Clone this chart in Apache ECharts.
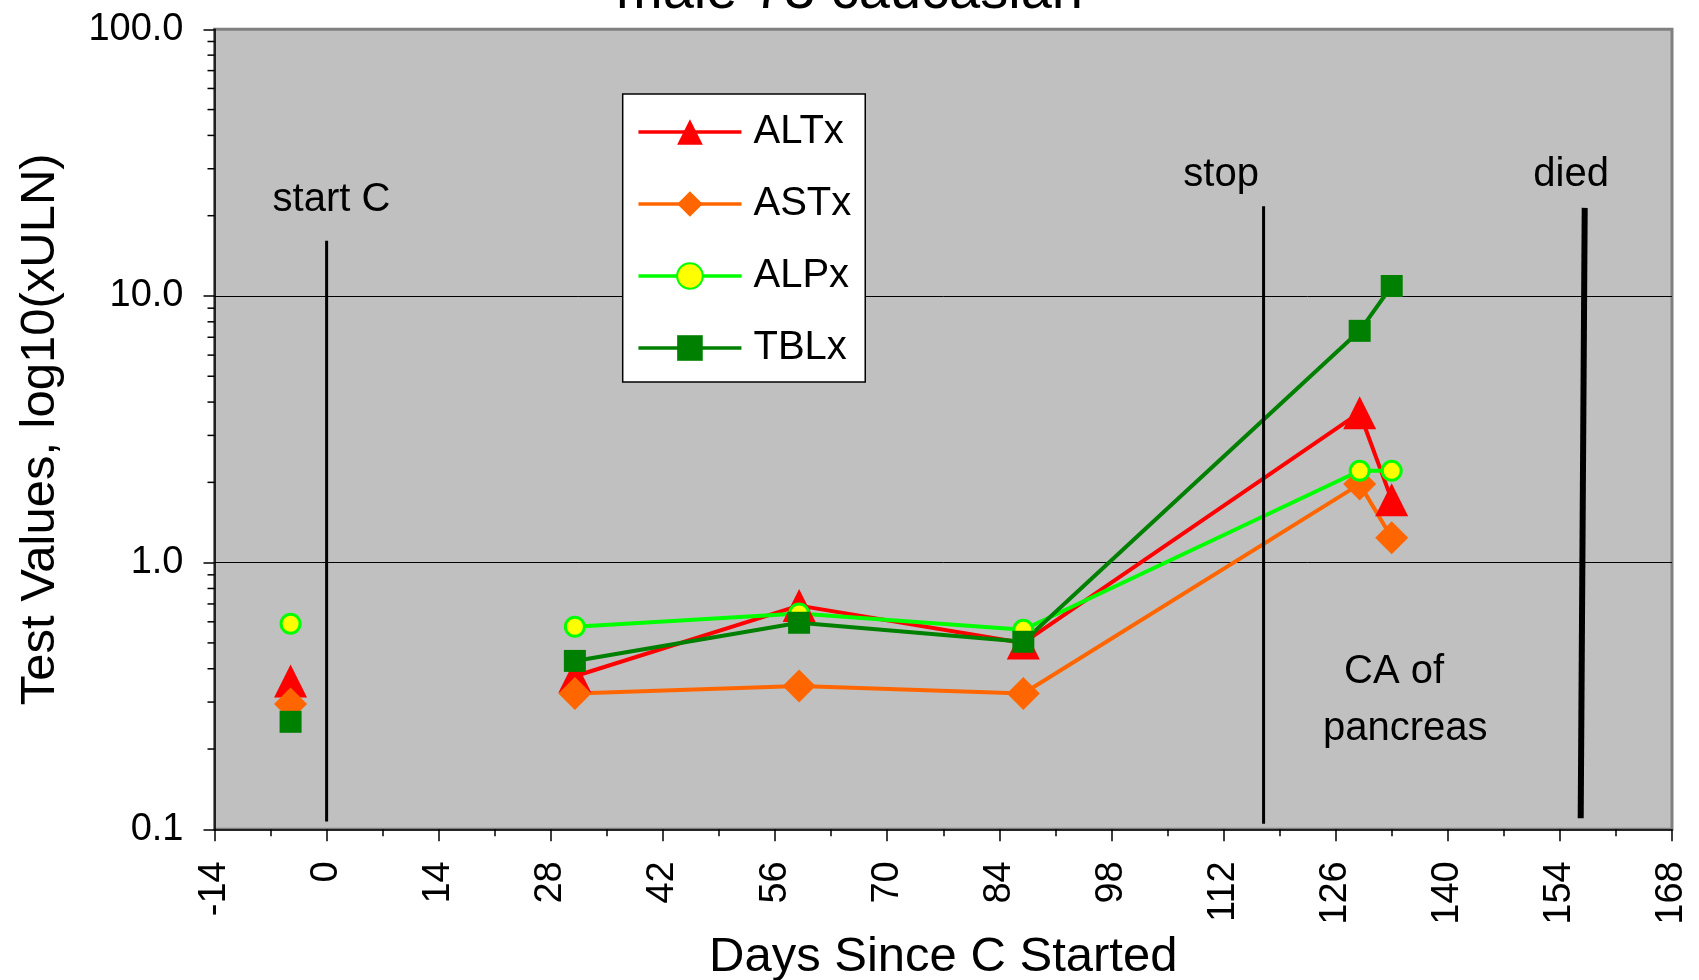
<!DOCTYPE html>
<html>
<head>
<meta charset="utf-8">
<title>male 73 caucasian</title>
<script src="https://cdn.jsdelivr.net/npm/echarts@6/dist/echarts.min.js"></script>
<style>
    html, body { margin: 0; padding: 0; background: #fff; }
    #chart { width: 1699px; height: 980px; }
</style>
</head>
<body>
<div id="chart"></div>
<script>
// lab visits (days since C started), values are x ULN
var days = [-4.5, 31, 59, 87, 129, 133];
var altx = [0.36, 0.375, 0.69, 0.50, 3.65, 1.72];
var astx = [0.295, 0.323, 0.345, 0.323, 1.97, 1.24];
var alpx = [0.59, 0.575, 0.645, 0.56, 2.21, 2.21];
var tblx = [0.253, 0.428, 0.595, 0.505, 7.4, 10.9];

// event markers (vertical lines)
var eventDayTop = [0, 117, 157.1];
var eventDayBottom = [0, 117, 156.6];
var eventTop = [16.1, 21.7, 21.4];
var eventBottom = [0.107, 0.105, 0.11];

// text notes on the plot
var noteText = ['start C', 'stop', 'died', 'CA of', 'pancreas'];
var noteDay = [0.6, 111.7, 155.4, 133.3, 134.7];
var noteValue = [23, 28.4, 28.4, 0.389, 0.238];

// y axis minor ticks (log decades)
var yMinor = [0.2, 0.3, 0.4, 0.5, 0.6, 0.7, 0.8, 0.9, 2, 3, 4, 5, 6, 7, 8, 9, 20, 30, 40, 50, 60, 70, 80, 90];

var FONT = '"Liberation Sans", Arial, sans-serif';

// first visit is before treatment, not joined to the rest
function toData(vals){
    var out = [];
    days.forEach(function(d, i){
        out.push([d, vals[i]]);
        if(i === 0){ out.push([d, null]); }
    });
    return out;
}

function lineSeries(name, vals, symbol, size, lineColor, fill, border){
    return {
        name: name,
        type: 'line',
        data: toData(vals),
        symbol: symbol,
        symbolSize: size,
        showAllSymbol: true,
        connectNulls: false,
        lineStyle: { color: lineColor, width: 4 },
        itemStyle: { color: fill, borderColor: border || fill, borderWidth: border ? 3 : 0 },
        emphasis: { disabled: true },
        z: 4
    };
}

var chart = echarts.init(document.getElementById('chart'));

var option = {
    animation: false,
    textStyle: { fontFamily: FONT },
    title: {
        text: 'male 73 caucasian',
        left: 'center',
        top: -35,
        padding: 0,
        textStyle: { fontSize: 56, fontWeight: 'normal', color: '#000', fontFamily: FONT }
    },
    grid: {
        left: 214.5, right: 27, top: 29.3, bottom: 150.7,
        outerBoundsMode: 'none',
        show: true,
        backgroundColor: '#C0C0C0',
        borderColor: '#808080',
        borderWidth: 3
    },
    legend: {
        data: ['ALTx', 'ASTx', 'ALPx', 'TBLx'],
        orient: 'vertical',
        left: 622.7,
        top: 94,
        padding: [18, 14, 14, 14],
        itemGap: 32,
        itemWidth: 103,
        itemHeight: 32,
        backgroundColor: '#fff',
        borderColor: '#000',
        borderWidth: 1.5,
        selectedMode: false,
        lineStyle: { width: 3.5 },
        textStyle: { fontSize: 40, color: '#000', fontFamily: FONT, padding: [0, 0, 0, 7] }
    },
    xAxis: {
        type: 'value',
        min: -14,
        max: 168,
        interval: 14,
        name: 'Days Since C Started',
        nameLocation: 'middle',
        nameGap: 98,
        nameTextStyle: { fontSize: 49, color: '#000', fontFamily: FONT },
        axisLine: { show: true, onZero: false, lineStyle: { color: '#000', width: 1.5 } },
        axisTick: { show: true, length: 12, lineStyle: { color: '#000', width: 1.5 } },
        minorTick: { show: true, splitNumber: 2, length: 7, lineStyle: { color: '#000', width: 1.5 } },
        axisLabel: { rotate: 90, fontSize: 38, color: '#000', margin: 32, showMinLabel: true, showMaxLabel: true, fontFamily: FONT },
        splitLine: { show: false }
    },
    yAxis: {
        type: 'log',
        logBase: 10,
        min: 0.1,
        max: 100,
        name: 'Test Values, log10(xULN)',
        nameLocation: 'middle',
        nameGap: 150,
        nameTextStyle: { fontSize: 49, color: '#000', fontFamily: FONT },
        axisLine: { show: true, onZero: false, lineStyle: { color: '#000', width: 1.5 } },
        axisTick: { show: true, length: 11, lineStyle: { color: '#000', width: 1.5 } },
        axisLabel: {
            fontSize: 38, color: '#000', margin: 31, fontFamily: FONT,
            formatter: function(v){ return (+v).toFixed(1); }
        },
        splitLine: { show: true, lineStyle: { color: ['#808080', '#000', '#000', '#808080'], width: 1 } }
    },
    series: [
        lineSeries('ALTx', altx, 'triangle', 33, '#FF0000', '#FF0000'),
        lineSeries('ASTx', astx, 'diamond', 33, '#FF6600', '#FF6600'),
        lineSeries('ALPx', alpx, 'circle', 19, '#00FF00', '#FFFF00', '#00FF00'),
        lineSeries('TBLx', tblx, 'rect', 22, '#008000', '#008000'),
        {
            type: 'custom',
            name: 'events',
            silent: true,
            z: 5,
            data: eventDayTop.map(function(d, i){ return [d, eventTop[i], eventDayBottom[i], eventBottom[i]]; }),
            encode: { x: [0, 2], y: [1, 3] },
            renderItem: function(params, api){
                var p1 = api.coord([api.value(0), api.value(1)]);
                var p2 = api.coord([api.value(2), api.value(3)]);
                return {
                    type: 'line',
                    shape: { x1: p1[0], y1: p1[1], x2: p2[0], y2: p2[1] },
                    style: { stroke: '#000', lineWidth: params.dataIndex === 2 ? 6 : 3 }
                };
            }
        },
        {
            type: 'custom',
            name: 'notes',
            silent: true,
            z: 5,
            data: noteDay.map(function(d, i){ return [d, noteValue[i]]; }),
            renderItem: function(params, api){
                var p = api.coord([api.value(0), api.value(1)]);
                return {
                    type: 'text',
                    x: p[0], y: p[1],
                    style: {
                        text: noteText[params.dataIndex],
                        fill: '#000',
                        fontSize: 40,
                        fontFamily: FONT,
                        align: 'center',
                        verticalAlign: 'middle'
                    }
                };
            }
        },
        {
            type: 'custom',
            name: 'yminor',
            silent: true,
            clip: false,
            data: yMinor.map(function(v){ return [-14, v]; }),
            renderItem: function(params, api){
                var p = api.coord([api.value(0), api.value(1)]);
                return {
                    type: 'line',
                    shape: { x1: p[0] - 7, y1: p[1], x2: p[0], y2: p[1] },
                    style: { stroke: '#000', lineWidth: 1.5 }
                };
            }
        }
    ]
};

chart.setOption(option);
</script>
</body>
</html>
